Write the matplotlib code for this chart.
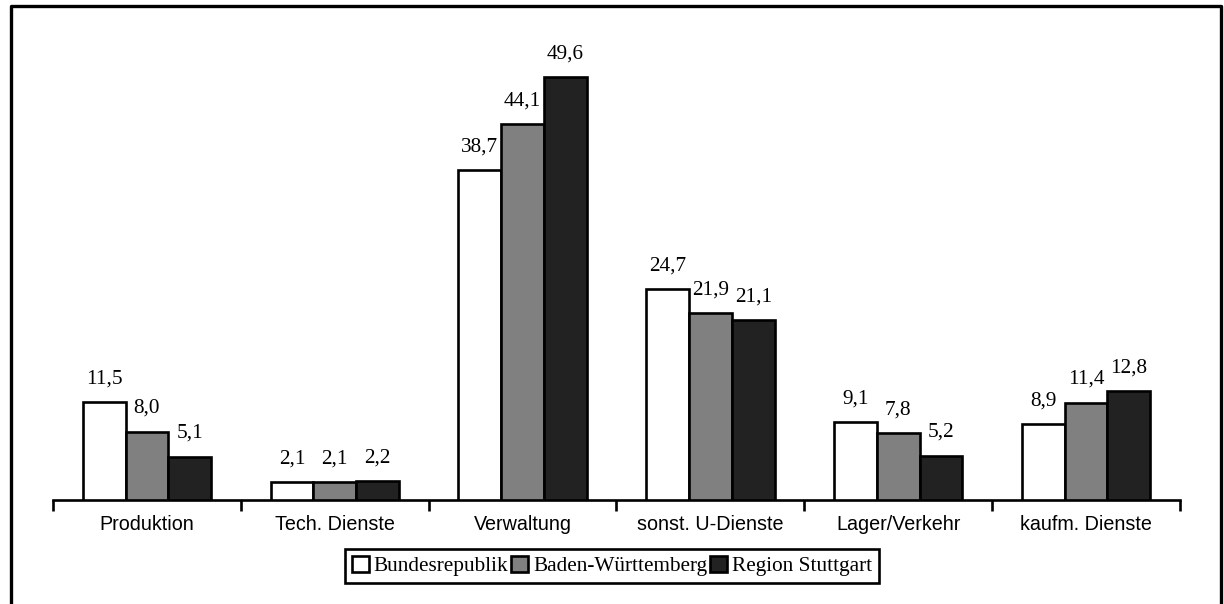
import matplotlib
matplotlib.use("Agg")
import matplotlib.pyplot as plt
from matplotlib.lines import Line2D
from matplotlib.patches import Patch
import numpy as np

categories = ["Produktion", "Tech. Dienste", "Verwaltung", "sonst. U-Dienste",
              "Lager/Verkehr", "kaufm. Dienste"]
series_names = ["Bundesrepublik", "Baden-Württemberg", "Region Stuttgart"]
bundesrepublik = [11.5, 2.1, 38.7, 24.7, 9.1, 8.9]
baden_wuerttemberg = [8.0, 2.1, 44.1, 21.9, 7.8, 11.4]
region_stuttgart = [5.1, 2.2, 49.6, 21.1, 5.2, 12.8]
series_values = [bundesrepublik, baden_wuerttemberg, region_stuttgart]
colors = ["#ffffff", "#808080", "#222222"]

W, H = 1224, 604
fig = plt.figure(figsize=(W / 100, H / 100), dpi=100)

# axes placed in pixel terms: baseline at y=500, x from 53 to 1180
x0, x1 = 53, 1180
ybase, ytop = 500, 31
ax = fig.add_axes([x0 / W, 1 - ybase / H, (x1 - x0) / W, (ybase - ytop) / H])

serif = "Liberation Serif"
sans = "Liberation Sans"

n = len(categories)
x = np.arange(n)
bw = 0.228
for i, (vals, col) in enumerate(zip(series_values, colors)):
    pos = x + (i - 1) * bw
    bars = ax.bar(pos, vals, width=bw, color=col, edgecolor="black",
                  linewidth=1.9, zorder=3)
    for b, v in zip(bars, vals):
        ax.annotate(f"{v:.1f}".replace(".", ","),
                    (b.get_x() + b.get_width() / 2, v),
                    xytext=(0, 13.5), textcoords="offset points",
                    ha="center", va="baseline", fontsize=15.3,
                    fontfamily=serif)

ax.set_xlim(-0.5, n - 0.5)
ax.set_ylim(0, 55)
for s in ["top", "right", "left"]:
    ax.spines[s].set_visible(False)
ax.spines["bottom"].set_linewidth(1.9)
ax.set_yticks([])
ax.set_xticks(np.arange(n + 1) - 0.5)
ax.tick_params(axis="x", which="major", length=8, width=1.9, direction="out",
               labelbottom=False)
ax.set_xticks(x, minor=True)
ax.set_xticklabels(categories, minor=True, fontfamily=sans, fontsize=14.2)
ax.tick_params(axis="x", which="minor", length=0, pad=11)

handles = [Patch(facecolor=c, edgecolor="black", linewidth=1.9) for c in colors]
leg = fig.legend(handles, series_names, loc="center",
                 bbox_to_anchor=(612 / W, 1 - 566 / H), ncol=3,
                 prop={"family": serif, "size": 15.3},
                 handlelength=0.8, handleheight=0.8, handletextpad=0.25,
                 columnspacing=0.12, borderpad=0.3, fancybox=False,
                 framealpha=1, edgecolor="black")
leg.get_frame().set_linewidth(1.9)

# outer frame around the chart (open at the bottom edge)
lx, rx, ty = 11 / W, 1221 / W, 1 - 6 / H
fig.add_artist(Line2D([lx, lx, rx, rx], [-0.01, ty, ty, -0.01],
                      transform=fig.transFigure, color="black", linewidth=2.4))

fig.savefig("out.png", dpi=100, facecolor="white")
